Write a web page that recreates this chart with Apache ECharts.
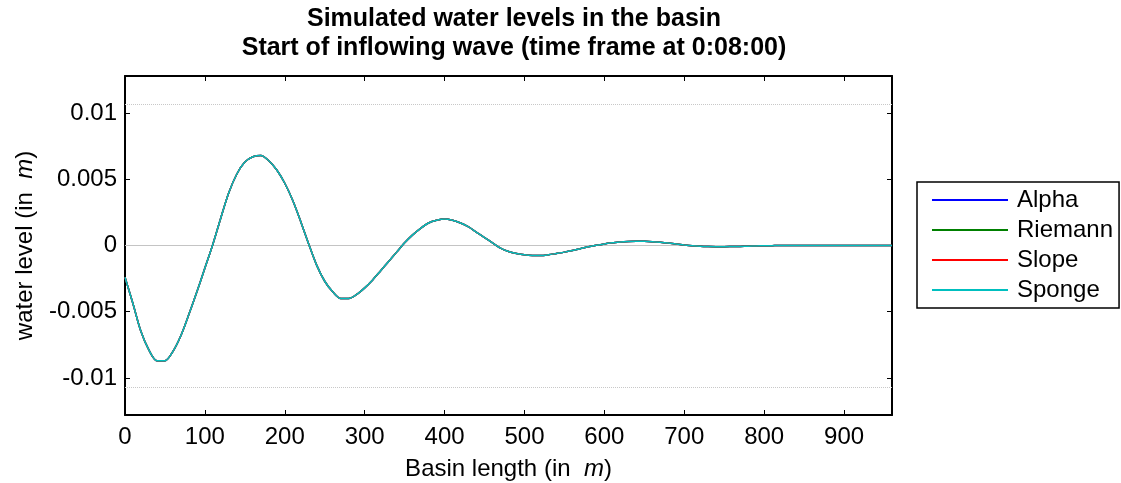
<!DOCTYPE html>
<html>
<head>
<meta charset="utf-8">
<title>Simulated water levels in the basin</title>
<script src="https://cdn.jsdelivr.net/npm/echarts@6/dist/echarts.min.js"></script>
<style>
  html, body { margin: 0; padding: 0; background: #ffffff; }
  #chart { width: 1121px; height: 483px; }
</style>
</head>
<body>
<div id="chart"></div>
<script>
// Position along the basin (m), sampled every 10 m
const basinX = [
  0, 10, 20, 30, 40, 50, 60, 70, 80, 90,
  100, 110, 120, 130, 140, 150, 160, 170, 180, 190,
  200, 210, 220, 230, 240, 250, 260, 270, 280, 290,
  300, 310, 320, 330, 340, 350, 360, 370, 380, 390,
  400, 410, 420, 430, 440, 450, 460, 470, 480, 490,
  500, 510, 520, 530, 540, 550, 560, 570, 580, 590,
  600, 610, 620, 630, 640, 650, 660, 670, 680, 690,
  700, 710, 720, 730, 740, 750, 760, 770, 780, 790,
  800, 810, 820, 830, 840, 850, 860, 870, 880, 890,
  900, 910, 920, 930, 940, 950, 960
];

// Water level (m) at 0:08:00 — the four boundary schemes coincide here
const waterLevel = [
  -0.0024, -0.0044, -0.0065, -0.0079, -0.0087, -0.0087, -0.0080, -0.0068, -0.0052, -0.0035,
  -0.0017, 0.0001, 0.0021, 0.0040, 0.0054, 0.0063, 0.0067, 0.0068, 0.0064, 0.0057,
  0.0047, 0.0034, 0.0018, 0.0001, -0.0015, -0.0027, -0.0035, -0.0040, -0.0040, -0.0037,
  -0.0032, -0.0026, -0.0019, -0.0012, -0.0005, 0.0002, 0.0008, 0.0013, 0.0017, 0.0019,
  0.0020, 0.0019, 0.0017, 0.0014, 0.0010, 0.0006, 0.0002, -0.0002, -0.00045, -0.0006,
  -0.0007, -0.00075, -0.00076, -0.0007, -0.0006, -0.0005, -0.00038, -0.00024, -0.0001, 0.00002,
  0.00012, 0.0002, 0.00027, 0.00031, 0.00033, 0.00032, 0.00029, 0.00024, 0.00018, 0.00011,
  0.00004, -0.00002, -0.00006, -0.00008, -0.00009, -0.00009, -0.00008, -0.00007, -0.00005, -0.00003,
  -0.00002, -0.00001, 0, 0, 0, 0, 0, 0, 0, 0,
  0, 0, 0, 0, 0, 0, 0
];

const seriesNames = ['Alpha', 'Riemann', 'Slope', 'Sponge'];
const seriesColors = ['#0000ff', '#008000', '#ff0000', '#00bfbf'];

// Reference levels: still water and the upper/lower guide lines
const stillWater = 0;
const guideLevels = [0.0107, -0.0107];

const xRange = [0, 960];
const yRange = [-0.0128, 0.0128];

const font = '"Liberation Sans", Arial, sans-serif';
const chart = echarts.init(document.getElementById('chart'), null, { renderer: 'canvas' });

const points = basinX.map((x, i) => [x, waterLevel[i]]);

const axisLine = { show: true, onZero: false, lineStyle: { color: '#000', width: 2 } };
const axisTick = { show: true, inside: true, length: 5, lineStyle: { color: '#000', width: 1 } };
const labelFont = { fontFamily: font, fontSize: 24, color: '#000' };

const series = seriesNames.map((name, i) => {
  const s = {
    name: name,
    type: 'line',
    data: points,
    symbol: 'none',
    smooth: 0.3,
    lineStyle: { color: seriesColors[i], width: 1.5 },
    itemStyle: { color: seriesColors[i] },
    z: 3 + i,
    animation: false
  };
  if (i === 0) {
    s.markLine = {
      silent: true,
      symbol: 'none',
      precision: 6,
      label: { show: false },
      animation: false,
      z: 1,
      data: [
        { yAxis: stillWater, lineStyle: { color: '#c4c4c4', width: 1.2, type: 'solid' } },
        ...guideLevels.map(v => ({ yAxis: v, lineStyle: { color: '#c8c8c8', width: 1, type: [1, 1] } }))
      ]
    };
  }
  return s;
});

chart.setOption({
  backgroundColor: '#ffffff',
  animation: false,
  textStyle: { fontFamily: font },
  title: {
    text: 'Simulated water levels in the basin\nStart of inflowing wave (time frame at 0:08:00)',
    left: 509,
    top: 0,
    textAlign: 'center',
    textStyle: { fontFamily: font, fontSize: 25, fontWeight: 'bold', color: '#000', lineHeight: 29 }
  },
  legend: {
    orient: 'vertical',
    left: 917,
    top: 182,
    padding: [6, 6, 6, 15],
    itemGap: 6,
    itemWidth: 76,
    itemHeight: 14,
    backgroundColor: '#ffffff',
    borderColor: '#000',
    borderWidth: 1.5,
    borderRadius: 0,
    icon: 'path://M0,0 L76,0 L76,2 L0,2 Z',
    textStyle: { fontFamily: font, fontSize: 24, color: '#000', lineHeight: 24, padding: [0, 0, 0, 4] },
    data: seriesNames.map((n, i) => ({ name: n, itemStyle: { color: seriesColors[i] } }))
  },
  grid: { left: 125, right: 229, top: 76, bottom: 68, containLabel: false, outerBoundsMode: 'none' },
  xAxis: [
    {
      type: 'value', position: 'bottom', min: xRange[0], max: xRange[1], interval: 100,
      name: 'Basin length (in  {i|m})', nameLocation: 'middle', nameGap: 42,
      nameTextStyle: Object.assign({}, labelFont, {
        rich: { i: Object.assign({}, labelFont, { fontStyle: 'italic' }) }
      }),
      axisLine: axisLine, axisTick: axisTick,
      axisLabel: Object.assign({ show: true, margin: 10, showMaxLabel: false }, labelFont),
      splitLine: { show: false }
    },
    {
      type: 'value', position: 'top', min: xRange[0], max: xRange[1], interval: 100,
      axisLine: axisLine, axisTick: axisTick,
      axisLabel: { show: false }, splitLine: { show: false }
    }
  ],
  yAxis: [
    {
      type: 'value', position: 'left', min: yRange[0], max: yRange[1], splitNumber: 5,
      name: 'water level (in  {i|m})', nameLocation: 'middle', nameGap: 88,
      nameTextStyle: Object.assign({}, labelFont, {
        rich: { i: Object.assign({}, labelFont, { fontStyle: 'italic' }) }
      }),
      axisLine: axisLine, axisTick: axisTick,
      axisLabel: Object.assign({
        show: true, margin: 8, showMinLabel: false, showMaxLabel: false,
        formatter: v => String(+v.toFixed(4))
      }, labelFont),
      splitLine: { show: false }
    },
    {
      type: 'value', position: 'right', min: yRange[0], max: yRange[1], splitNumber: 5,
      axisLine: axisLine, axisTick: axisTick,
      axisLabel: { show: false }, splitLine: { show: false }
    }
  ],
  series: series
});
</script>
</body>
</html>
